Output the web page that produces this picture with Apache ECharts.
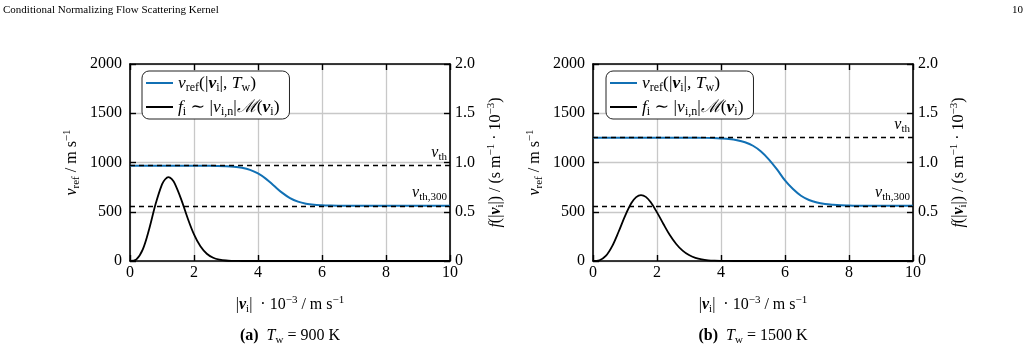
<!DOCTYPE html>
<html>
<head>
<meta charset="utf-8">
<script src="https://cdn.jsdelivr.net/npm/echarts@6/dist/echarts.min.js"></script>
<style>
  html, body { margin: 0; padding: 0; background: #fff; }
  #chart { width: 1027px; height: 352px; }
</style>
</head>
<body>
<div id="chart"></div>
<script>
// v_ref curves (speed in km/s, v_ref in m/s)
const speedRefA = [0, 1, 2, 2.5, 3, 3.25, 3.5, 3.75, 4, 4.25, 4.5, 4.75, 5, 5.25, 5.5, 5.75, 6, 6.25, 6.5, 7, 8, 9, 10]
const vRefA = [968, 968, 968, 967, 962, 957, 946, 925, 889, 834, 764, 694, 639, 603, 582, 571, 566, 563, 561, 560, 560, 560, 560]

const speedRefB = [0, 1, 2, 3, 3.5, 3.75, 4, 4.25, 4.5, 4.75, 5, 5.25, 5.5, 5.75, 6, 6.25, 6.5, 6.75, 7, 7.25, 7.5, 7.75, 8, 8.25, 8.5, 9, 10]
const vRefB = [1252, 1252, 1252, 1251, 1250, 1248, 1244, 1238, 1226, 1205, 1170, 1112, 1030, 930, 818, 730, 662, 619, 593, 578, 570, 565, 563, 561.5, 561, 560, 560]

// incoming flux distributions (right axis, 1e-3 s/m)
const speedFA = [0, 0.2, 0.4, 0.6, 0.8, 1.0, 1.1, 1.2, 1.3, 1.4, 1.6, 1.8, 2.0, 2.2, 2.4, 2.6, 2.8, 3.0, 3.2, 3.4, 3.6, 4, 10]
const fA = [0, 0.017, 0.118, 0.325, 0.578, 0.778, 0.830, 0.852, 0.834, 0.785, 0.626, 0.436, 0.270, 0.149, 0.074, 0.033, 0.014, 0.005, 0.0017, 0.0005, 0.0001, 0, 0]

const speedFB = [0, 0.2, 0.4, 0.6, 0.8, 1.0, 1.2, 1.35, 1.5, 1.65, 1.8, 2.0, 2.2, 2.4, 2.6, 2.8, 3.0, 3.2, 3.4, 3.6, 3.8, 4.0, 4.2, 4.6, 10]
const fB = [0, 0.007, 0.051, 0.151, 0.297, 0.456, 0.588, 0.648, 0.669, 0.651, 0.598, 0.494, 0.376, 0.264, 0.173, 0.105, 0.060, 0.032, 0.016, 0.0074, 0.0032, 0.0013, 0.0005, 0, 0]

// thermal speeds (dashed reference lines)
const vThA = 968
const vThB = 1252
const vTh300 = 560

const captions = ['(a)', '(b)']
const wallTemps = ['900', '1500']

const FONT = "'Liberation Serif', 'DejaVu Serif', serif"
const BLUE = '#1170b4'

const makeRich = (size, small) => ({
  i: { fontFamily: FONT, fontStyle: 'italic', fontSize: size },
  bv: { fontFamily: FONT, fontStyle: 'italic', fontWeight: 'bold', fontSize: size },
  b: { fontFamily: FONT, fontWeight: 'bold', fontSize: size },
  cal: { fontFamily: FONT, fontStyle: 'italic', fontSize: size },
  sub: { fontFamily: FONT, fontSize: small, verticalAlign: 'bottom', lineHeight: small + 1 },
  sup: { fontFamily: FONT, fontSize: small, verticalAlign: 'top', lineHeight: small + 1 }
})
const rich = makeRich(16, 11)
const legendRich = makeRich(17.5, 12)

const pairs = (xs, ys) => xs.map((x, k) => [x, ys[k]])

const chart = echarts.init(document.getElementById('chart'))

const grids = [
  { left: 130, top: 64, width: 320, height: 197 },
  { left: 593, top: 64, width: 320, height: 197 }
]

const axisLine = () => ({ show: true, onZero: false, lineStyle: { color: '#000', width: 1.6 } })
const tickIn = () => ({ show: true, inside: true, length: 6, lineStyle: { color: '#000', width: 1.4 } })
const gridLine = () => ({ show: true, lineStyle: { color: '#c8c8c8', width: 1.3 } })
const labelStyle = (margin, formatter) => ({
  show: true, margin, color: '#000', fontFamily: FONT, fontSize: 16, formatter
})
const nameStyle = () => ({ color: '#000', fontFamily: FONT, fontSize: 16, lineHeight: 20, rich })

const xAxes = []
const yAxes = []
grids.forEach((g, k) => {
  xAxes.push({
    type: 'value', gridIndex: k, min: 0, max: 10, interval: 2, position: 'bottom',
    axisLine: axisLine(), axisTick: tickIn(), splitLine: gridLine(),
    axisLabel: labelStyle(4, v => String(v)),
    name: '|{bv|v}{sub|i}|  · 10{sup|−3} / m s{sup|−1}',
    nameLocation: 'middle', nameGap: 34, nameTextStyle: nameStyle()
  })
  xAxes.push({
    type: 'value', gridIndex: k, min: 0, max: 10, interval: 2, position: 'top',
    axisLine: axisLine(), axisTick: tickIn(), splitLine: { show: false }, axisLabel: { show: false }
  })
  yAxes.push({
    type: 'value', gridIndex: k, min: 0, max: 2000, interval: 500, position: 'left',
    axisLine: axisLine(), axisTick: tickIn(), splitLine: gridLine(),
    axisLabel: labelStyle(8, v => String(v)),
    name: '{i|v}{sub|ref} / m s{sup|−1}',
    nameLocation: 'middle', nameGap: 48, nameRotate: 90, nameTextStyle: nameStyle()
  })
  yAxes.push({
    type: 'value', gridIndex: k, min: 0, max: 2, interval: 0.5, position: 'right',
    axisLine: axisLine(), axisTick: tickIn(), splitLine: { show: false },
    axisLabel: labelStyle(5, v => v === 0 ? '0' : v.toFixed(1)),
    name: '{i|f}(|{bv|v}{sub|i}|) / (s m{sup|−1} · 10{sup|−3})',
    nameLocation: 'middle', nameGap: 36, nameRotate: 90, nameTextStyle: nameStyle()
  })
})

const dashLine = (k, vTh) => ({
  type: 'line', xAxisIndex: 2 * k, yAxisIndex: 2 * k, data: [], z: 1,
  markLine: {
    silent: true, symbol: 'none', animation: false,
    lineStyle: { color: '#000', type: [5, 4], width: 1.3 },
    label: {
      position: 'insideEndTop', distance: 3, color: '#000', fontFamily: FONT, fontSize: 16,
      lineHeight: 20, rich
    },
    data: [
      { yAxis: vTh, label: { formatter: '{i|v}{sub|th}' } },
      { yAxis: vTh300, label: { formatter: '{i|v}{sub|th,300}' } }
    ]
  }
})

const refLine = (k, name, xs, ys) => ({
  name, type: 'line', xAxisIndex: 2 * k, yAxisIndex: 2 * k, z: 4,
  data: pairs(xs, ys), symbol: 'none', showSymbol: false, smooth: 0.35,
  lineStyle: { color: BLUE, width: 2 }, itemStyle: { color: BLUE }
})

const fLine = (k, name, xs, ys) => ({
  name, type: 'line', xAxisIndex: 2 * k, yAxisIndex: 2 * k + 1, z: 3,
  data: pairs(xs, ys), symbol: 'none', showSymbol: false, smooth: 0.35,
  lineStyle: { color: '#000', width: 1.8 }, itemStyle: { color: '#000' }
})

const legendText = {
  refA: '{i|v}{sub|ref}(|{bv|v}{sub|i}|, {i|T}{sub|w})',
  refB: '{i|v}{sub|ref}(|{bv|v}{sub|i}|, {i|T}{sub|w})',
  fA: '{i|f}{sub|i} ∼ |{i|v}{sub|i,n}|{cal|ℳ}({bv|v}{sub|i})',
  fB: '{i|f}{sub|i} ∼ |{i|v}{sub|i,n}|{cal|ℳ}({bv|v}{sub|i})'
}

const legend = (left, names) => ({
  left, top: 71, orient: 'vertical',
  data: names.map(n => ({ name: n, icon: 'rect' })),
  itemWidth: 27, itemHeight: 2, itemGap: 2,
  padding: [1, 10, 1, 4],
  borderColor: '#222', borderWidth: 1, borderRadius: 7, backgroundColor: '#fff',
  selectedMode: false,
  formatter: n => legendText[n],
  textStyle: { color: '#000', fontFamily: FONT, fontSize: 17.5, lineHeight: 22, rich: legendRich }
})

const captionText = (k) => ({
  type: 'text', x: [290, 753][k], y: 336,
  style: {
    text: '{b|' + captions[k] + '}  {i|T}{sub|w} = ' + wallTemps[k] + ' K',
    align: 'center', verticalAlign: 'middle', fill: '#000',
    fontFamily: FONT, fontSize: 16, lineHeight: 20, rich
  }
})

chart.setOption({
  animation: false,
  grid: grids,
  xAxis: xAxes,
  yAxis: yAxes,
  legend: [legend(142, ['refA', 'fA']), legend(606, ['refB', 'fB'])],
  series: [
    dashLine(0, vThA),
    refLine(0, 'refA', speedRefA, vRefA),
    fLine(0, 'fA', speedFA, fA),
    dashLine(1, vThB),
    refLine(1, 'refB', speedRefB, vRefB),
    fLine(1, 'fB', speedFB, fB)
  ],
  graphic: [
    {
      type: 'text', x: 3, y: 10,
      style: { text: 'Conditional Normalizing Flow Scattering Kernel', fill: '#000',
        fontFamily: FONT, fontSize: 11, verticalAlign: 'middle' }
    },
    {
      type: 'text', x: 1023, y: 10,
      style: { text: '10', fill: '#000', fontFamily: FONT, fontSize: 11,
        align: 'right', verticalAlign: 'middle' }
    },
    captionText(0),
    captionText(1)
  ]
})
</script>
</body>
</html>
